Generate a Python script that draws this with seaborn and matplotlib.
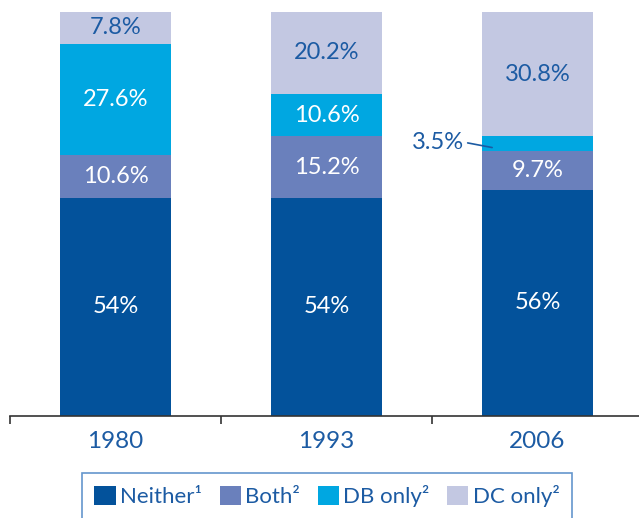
import pandas as pd
import seaborn as sns
import matplotlib.pyplot as plt
from matplotlib.patches import Patch

# Data: share of workers by pension coverage (%)
years = ['1980', '1993', '2006']
neither = [54, 54, 56]
both = [10.6, 15.2, 9.7]
db_only = [27.6, 10.6, 3.5]
dc_only = [7.8, 20.2, 30.8]
neither_lbl = ['54%', '54%', '56%']
both_lbl = ['10.6%', '15.2%', '9.7%']
db_lbl = ['27.6%', '10.6%', '3.5%']
dc_lbl = ['7.8%', '20.2%', '30.8%']
series_names = ['Neither¹', 'Both²', 'DB only²', 'DC only²']

colors = ['#03529b', '#6a80bc', '#00a7e1', '#c3c8e2']
text_blue = '#1c5ba3'

sns.set_style('white')
plt.rcParams['font.family'] = ['Lato', 'DejaVu Sans']

df = pd.DataFrame({'year': years, 'neither': neither, 'both': both,
                   'db': db_only, 'dc': dc_only})
df['c1'] = df['neither']
df['c2'] = df['c1'] + df['both']
df['c3'] = df['c2'] + df['db']
df['c4'] = df['c3'] + df['dc']

fig = plt.figure(figsize=(6.39, 5.18), dpi=100)
ax = fig.add_axes([10 / 639, 102 / 518, 633 / 639, 404 / 518])

# draw cumulative totals from tallest to shortest
w = 0.53
for col, c in zip(['c4', 'c3', 'c2', 'c1'], colors[::-1]):
    sns.barplot(data=df, x='year', y=col, color=c, width=w, saturation=1,
                ax=ax, linewidth=0)

ax.set_xlim(-0.5, 2.5)
ax.set_ylim(0, 100)
ax.set_xlabel('')
ax.set_ylabel('')
ax.set_yticks([])
for s in ['top', 'left', 'right']:
    ax.spines[s].set_visible(False)
ax.spines['bottom'].set_color('#333333')
ax.spines['bottom'].set_linewidth(1.2)
ax.set_xticks([-0.5, 0.5, 1.5], minor=False)
ax.set_xticklabels([])
ax.tick_params(axis='x', which='major', direction='out', length=6, width=1.2,
               color='#333333', bottom=True)
for i, y in enumerate(years):
    ax.text(i, -3.8, y, ha='center', va='top', fontsize=17.5, color=text_blue)

fs = 17
for i in range(3):
    lows = [0, df['c1'][i], df['c2'][i], df['c3'][i]]
    highs = [df['c1'][i], df['c2'][i], df['c3'][i], df['c4'][i]]
    labels = [neither_lbl[i], both_lbl[i], db_lbl[i], dc_lbl[i]]
    tcols = ['white', 'white', 'white', text_blue]
    for k in range(4):
        mid = (lows[k] + highs[k]) / 2
        if highs[k] - lows[k] < 5:
            ax.annotate(labels[k], xy=(i - w / 2 + 0.05, mid - 1),
                        xytext=(i - 0.47, mid + 0.3), ha='center', va='center',
                        fontsize=fs, color=text_blue,
                        arrowprops=dict(arrowstyle='-', color=text_blue, lw=1.2,
                                        shrinkA=0, shrinkB=0,
                                        relpos=(1.0, 0.5)))
        else:
            ax.text(i, mid, labels[k], ha='center', va='center', fontsize=fs,
                    color=tcols[k])

handles = [Patch(facecolor=c, edgecolor='none') for c in colors]
leg = fig.legend(handles, series_names, loc='upper center',
                 bbox_to_anchor=(327 / 639, 45 / 518), ncol=4, frameon=True,
                 fancybox=False, fontsize=16, handlelength=0.95,
                 handleheight=0.95, handletextpad=0.2, columnspacing=0.8,
                 borderpad=0.55, borderaxespad=0, labelcolor=text_blue)
leg.get_frame().set_edgecolor('#3d7cc0')
leg.get_frame().set_linewidth(1.2)

fig.savefig('out.png', dpi=100)
